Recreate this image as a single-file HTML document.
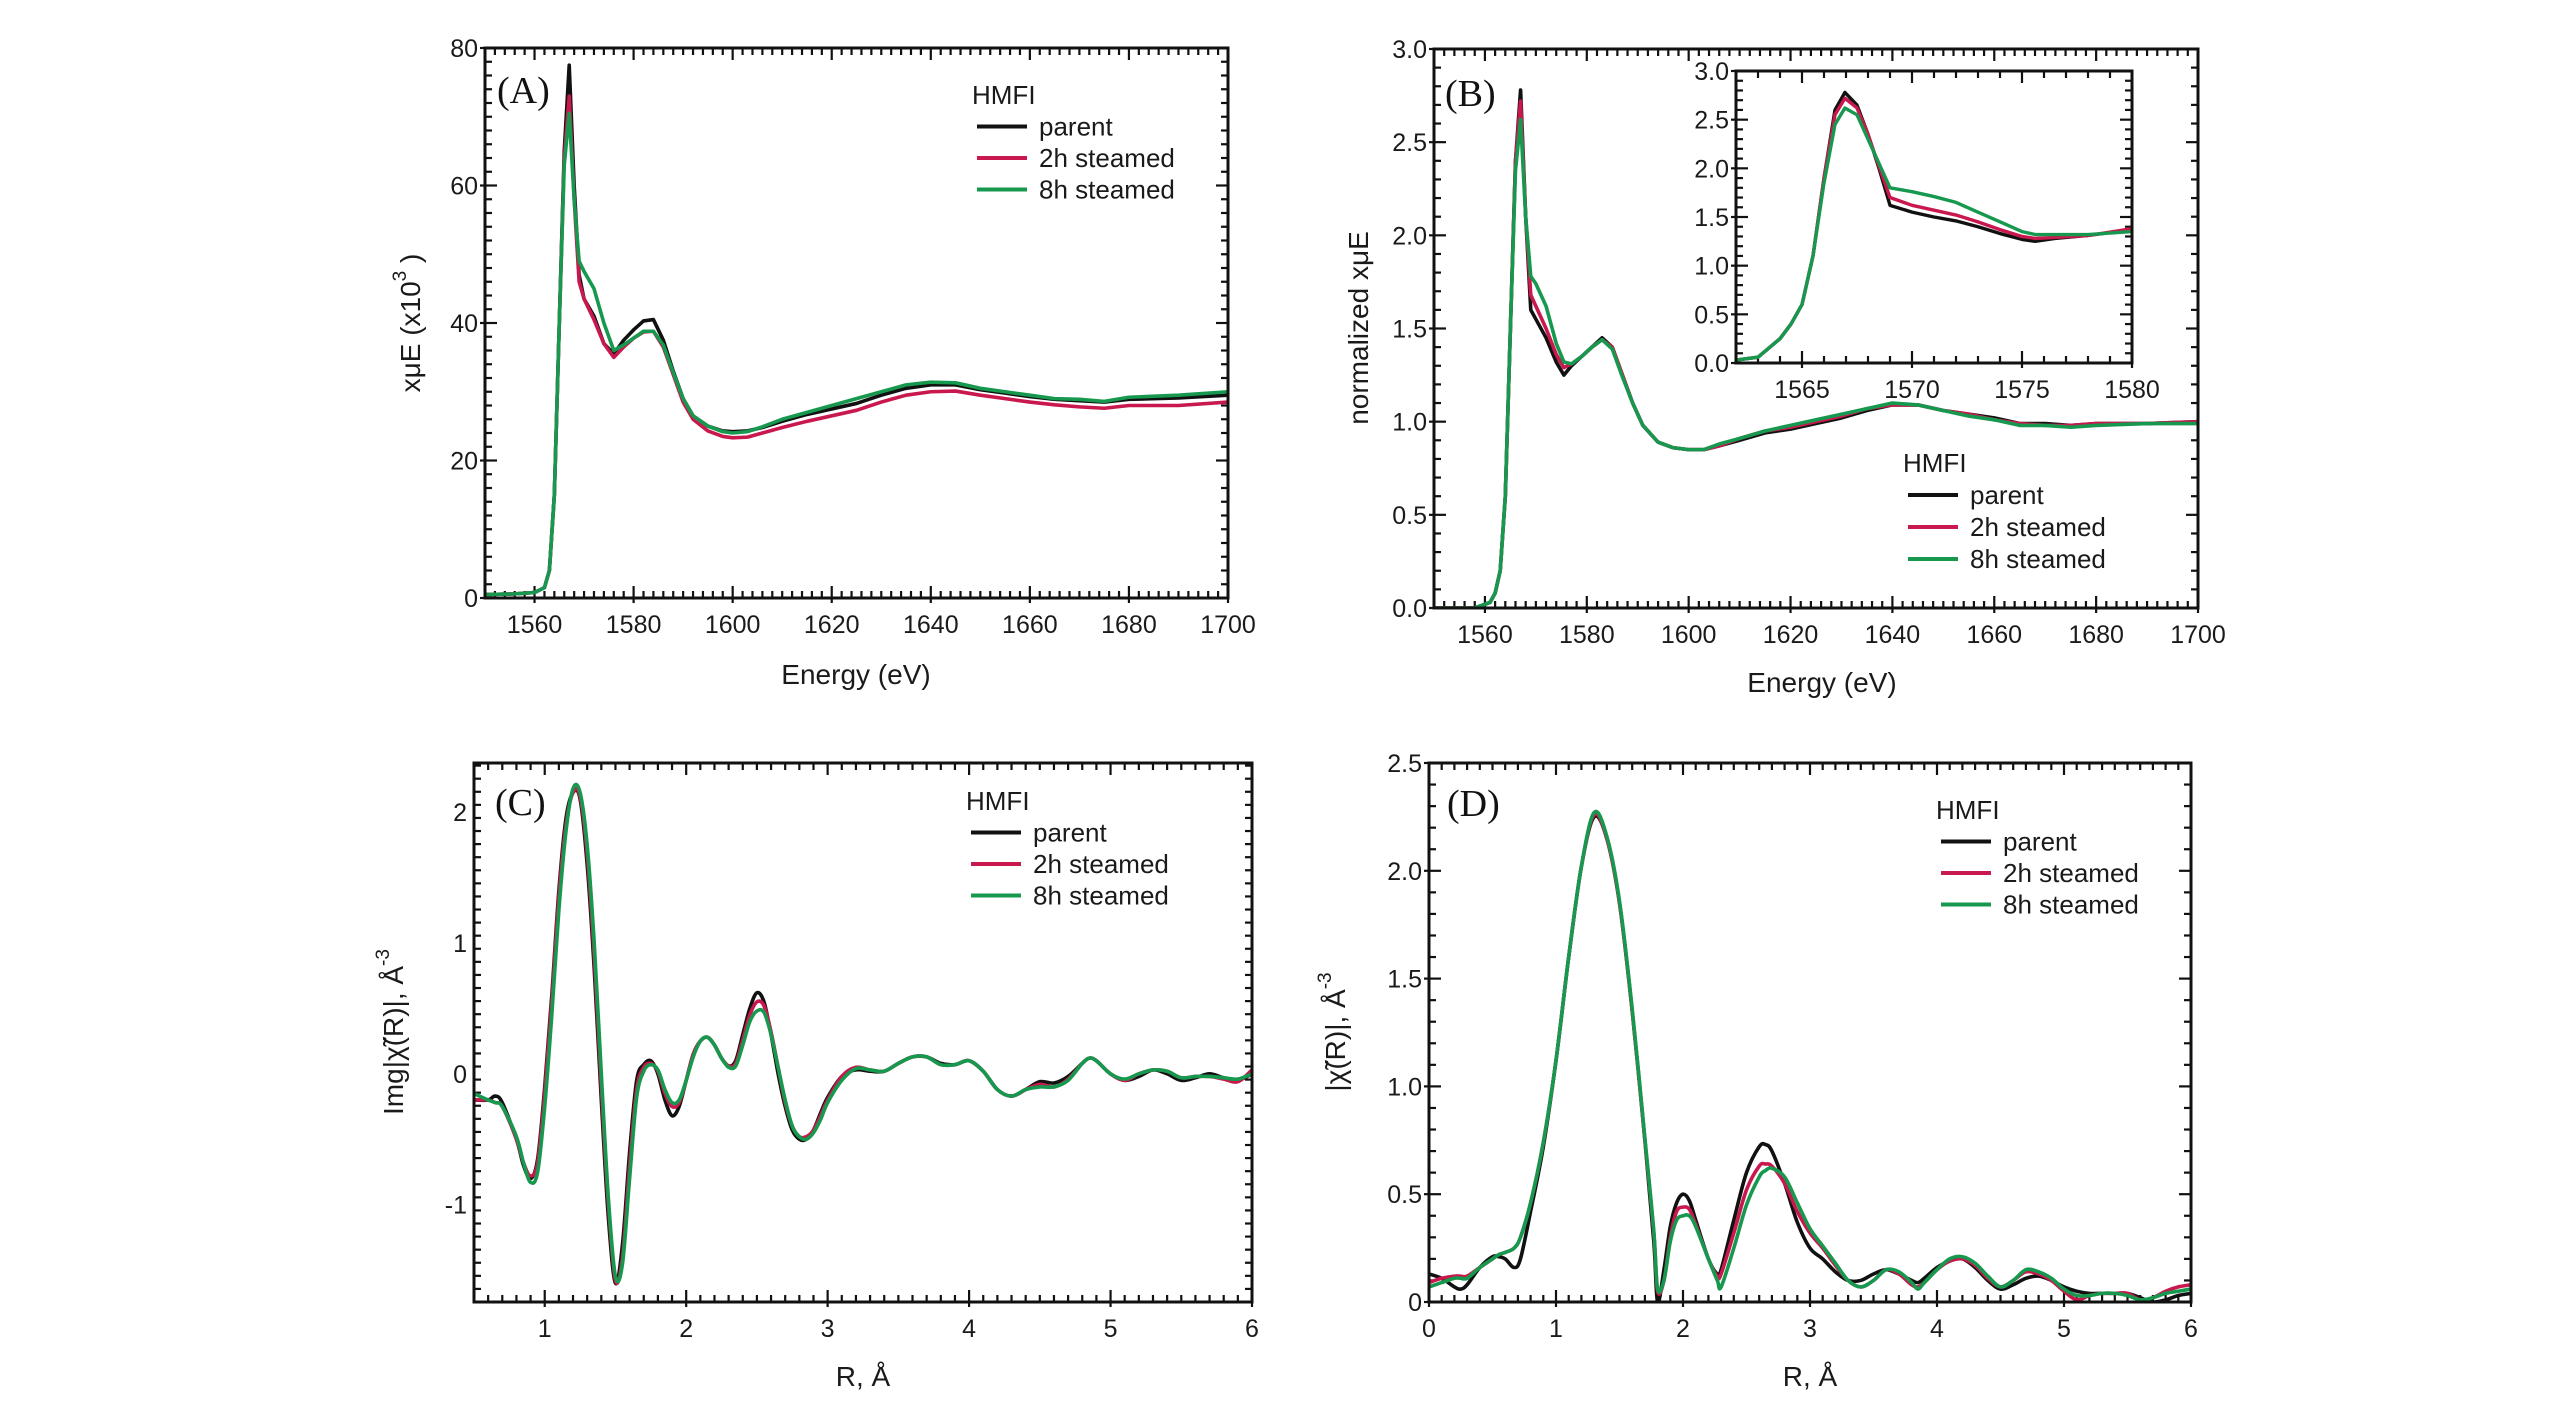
<!DOCTYPE html>
<html><head><meta charset="utf-8"><style>
html,body{margin:0;padding:0;background:#fff;}
svg{display:block;font-family:"Liberation Sans",Arial,sans-serif;}
</style></head><body>
<svg id="fig" width="2567" height="1417" viewBox="0 0 2567 1417" xmlns="http://www.w3.org/2000/svg"></svg>
<script>
// ---------- Panel A data ----------
const aEnergy = [1550,1556,1560,1562,1563,1564,1565,1566,1567,1568,1569,1570,1572,1574,1576,1578,1580,1582,1584,1586,1588,1590,1592,1595,1598,1600,1603,1606,1610,1615,1620,1625,1630,1635,1640,1645,1650,1655,1660,1665,1670,1675,1680,1690,1700];
const aParent = [0.5,0.6,0.8,1.5,4,15,40,65,77.5,60,47,43.5,41,37,35.5,37.5,39,40.3,40.5,37.5,33,29,26.5,25,24.3,24.2,24.3,24.8,25.7,26.7,27.5,28.3,29.5,30.5,31,31,30.3,29.8,29.3,28.9,28.7,28.5,28.9,29.1,29.5];
const aSteam2 = [0.5,0.6,0.8,1.5,4,15,40,64,73,58,46,43.5,40.5,37,35,36.5,37.8,38.7,38.8,36.5,32.5,28.5,26,24.3,23.5,23.3,23.4,24,24.8,25.7,26.5,27.3,28.5,29.5,30,30.1,29.5,29,28.5,28.1,27.8,27.6,28,28,28.5];
const aSteam8 = [0.5,0.6,0.8,1.5,4,15,40,63,70.5,58,49,47.5,45,40,36,36.8,37.8,38.8,38.8,36.8,32.8,29,26.5,25,24.2,24,24.2,24.9,26,27,28,29,30,31,31.4,31.3,30.5,30,29.5,29,28.9,28.6,29.2,29.5,30];
const aXTicks = [1560,1580,1600,1620,1640,1660,1680,1700];
const aYTicks = [0,20,40,60,80];
// ---------- Panel B data ----------
const bEnergy = [1550,1558,1561,1562,1563,1564,1565,1566,1567,1568,1569,1570,1572,1574,1575.5,1577,1579,1581,1583,1585,1587,1589,1591,1594,1597,1600,1603,1606,1610,1615,1620,1625,1630,1635,1640,1645,1650,1655,1660,1665,1670,1675,1680,1690,1700];
const bParent = [0,0,0.03,0.08,0.2,0.6,1.5,2.4,2.78,2.1,1.6,1.55,1.45,1.32,1.25,1.3,1.35,1.4,1.45,1.4,1.25,1.1,0.98,0.89,0.86,0.85,0.85,0.87,0.9,0.94,0.96,0.99,1.02,1.06,1.09,1.09,1.06,1.04,1.02,0.99,0.99,0.98,0.99,0.99,1.0];
const bSteam2 = [0,0,0.03,0.08,0.2,0.6,1.5,2.4,2.72,2.1,1.68,1.62,1.5,1.36,1.29,1.31,1.35,1.4,1.44,1.4,1.25,1.1,0.98,0.89,0.86,0.85,0.85,0.87,0.91,0.95,0.97,1.0,1.03,1.07,1.09,1.09,1.06,1.04,1.01,0.99,0.98,0.98,0.99,0.99,1.0];
const bSteam8 = [0,0,0.03,0.08,0.2,0.6,1.5,2.35,2.62,2.1,1.78,1.74,1.62,1.42,1.32,1.31,1.35,1.4,1.44,1.39,1.24,1.1,0.98,0.89,0.86,0.85,0.85,0.88,0.91,0.95,0.98,1.01,1.04,1.07,1.1,1.09,1.06,1.03,1.01,0.98,0.98,0.97,0.98,0.99,0.99];
const bXTicks = [1560,1580,1600,1620,1640,1660,1680,1700];
const bYTicks = ["0.0","0.5","1.0","1.5","2.0","2.5","3.0"];
// ---------- Inset data ----------
const iEnergy = [1562,1563,1564,1564.5,1565,1565.5,1566,1566.5,1566.95,1567.5,1568,1568.5,1569,1570,1571,1572,1573,1574,1575,1575.6,1576.5,1578,1580];
const iParent = [0.03,0.06,0.25,0.4,0.6,1.1,1.9,2.6,2.78,2.65,2.35,2.0,1.62,1.55,1.5,1.46,1.4,1.33,1.27,1.25,1.28,1.31,1.37];
const iSteam2 = [0.03,0.06,0.25,0.4,0.6,1.1,1.9,2.55,2.72,2.62,2.35,2.02,1.7,1.62,1.57,1.52,1.45,1.37,1.3,1.28,1.29,1.31,1.38];
const iSteam8 = [0.03,0.06,0.25,0.4,0.6,1.1,1.85,2.45,2.62,2.55,2.3,2.05,1.8,1.76,1.71,1.65,1.55,1.45,1.35,1.32,1.32,1.32,1.35];
const iXTicks = [1565,1570,1575,1580];
const iYTicks = ["0.0","0.5","1.0","1.5","2.0","2.5","3.0"];
// ---------- Panel C data ----------
const cR = [0.5,0.6,0.65,0.7,0.8,0.85,0.9,0.95,1.0,1.05,1.1,1.15,1.2,1.25,1.3,1.35,1.4,1.45,1.5,1.55,1.6,1.65,1.7,1.75,1.8,1.85,1.9,1.95,2.0,2.05,2.1,2.15,2.2,2.25,2.3,2.35,2.4,2.45,2.5,2.55,2.6,2.65,2.7,2.75,2.8,2.85,2.9,2.95,3.0,3.1,3.2,3.3,3.4,3.5,3.6,3.7,3.8,3.9,4.0,4.1,4.2,4.3,4.4,4.5,4.6,4.7,4.8,4.85,4.9,5.0,5.1,5.2,5.3,5.4,5.5,5.6,5.7,5.8,5.9,6.0];
const cParent = [-0.2,-0.2,-0.17,-0.22,-0.5,-0.7,-0.8,-0.65,-0.1,0.6,1.4,1.95,2.15,2.1,1.6,0.8,-0.2,-1.1,-1.6,-1.3,-0.6,-0.05,0.07,0.1,0.0,-0.2,-0.32,-0.25,-0.05,0.15,0.25,0.28,0.22,0.12,0.06,0.1,0.3,0.5,0.62,0.55,0.3,0.0,-0.25,-0.43,-0.5,-0.5,-0.43,-0.3,-0.18,-0.02,0.03,0.02,0.02,0.08,0.13,0.13,0.08,0.07,0.1,0.02,-0.12,-0.17,-0.12,-0.06,-0.07,-0.02,0.08,0.12,0.1,0.0,-0.05,-0.02,0.03,0.0,-0.05,-0.03,0.0,-0.03,-0.05,0.0];
const cSteam2 = [-0.2,-0.2,-0.22,-0.25,-0.5,-0.68,-0.78,-0.68,-0.15,0.55,1.35,1.9,2.15,2.12,1.68,0.9,-0.1,-1.0,-1.58,-1.4,-0.7,-0.12,0.05,0.08,0.02,-0.15,-0.25,-0.22,-0.05,0.15,0.25,0.28,0.22,0.12,0.06,0.08,0.26,0.45,0.55,0.52,0.32,0.05,-0.22,-0.4,-0.48,-0.48,-0.43,-0.32,-0.2,-0.02,0.05,0.03,0.02,0.08,0.13,0.13,0.07,0.07,0.1,0.02,-0.12,-0.17,-0.12,-0.08,-0.1,-0.04,0.08,0.12,0.1,0.0,-0.05,0.0,0.03,0.02,-0.03,-0.02,-0.02,-0.04,-0.06,0.03];
const cSteam8 = [-0.15,-0.2,-0.22,-0.25,-0.48,-0.68,-0.83,-0.75,-0.25,0.45,1.25,1.85,2.18,2.15,1.75,1.0,0.0,-0.95,-1.55,-1.45,-0.8,-0.18,0.02,0.07,0.03,-0.12,-0.22,-0.2,-0.05,0.13,0.25,0.28,0.22,0.12,0.05,0.06,0.22,0.4,0.48,0.47,0.3,0.05,-0.2,-0.4,-0.48,-0.5,-0.45,-0.35,-0.22,-0.05,0.04,0.03,0.02,0.08,0.13,0.13,0.07,0.07,0.1,0.02,-0.12,-0.17,-0.12,-0.1,-0.1,-0.05,0.08,0.12,0.1,0.0,-0.04,0.0,0.03,0.02,-0.03,-0.02,-0.02,-0.03,-0.04,0.0];
const cXTicks = [1,2,3,4,5,6];
const cYTicks = ["-1","0","1","2"];
// ---------- Panel D data ----------
const dR = [0,0.1,0.2,0.25,0.3,0.4,0.5,0.55,0.6,0.67,0.72,0.8,0.9,1.0,1.1,1.2,1.3,1.4,1.5,1.6,1.7,1.77,1.8,1.85,1.9,1.95,2.0,2.05,2.1,2.2,2.27,2.3,2.4,2.5,2.6,2.65,2.7,2.8,2.9,3.0,3.1,3.2,3.3,3.4,3.5,3.6,3.7,3.8,3.85,3.9,4.0,4.1,4.2,4.3,4.4,4.5,4.6,4.7,4.8,4.9,5.0,5.1,5.2,5.3,5.4,5.5,5.6,5.7,5.8,5.9,6.0];
const dParent = [0.13,0.11,0.07,0.06,0.08,0.16,0.21,0.21,0.2,0.16,0.2,0.42,0.72,1.12,1.6,2.02,2.25,2.15,1.85,1.35,0.75,0.28,0.0,0.15,0.35,0.46,0.5,0.47,0.38,0.2,0.13,0.15,0.38,0.6,0.72,0.73,0.7,0.55,0.37,0.25,0.2,0.14,0.1,0.1,0.13,0.15,0.13,0.1,0.09,0.11,0.16,0.19,0.2,0.16,0.1,0.06,0.08,0.11,0.12,0.1,0.07,0.05,0.04,0.04,0.04,0.04,0.02,0.0,0.01,0.03,0.04];
const dSteam2 = [0.09,0.11,0.12,0.12,0.12,0.16,0.2,0.22,0.23,0.25,0.3,0.46,0.74,1.12,1.6,2.02,2.26,2.15,1.85,1.35,0.75,0.32,0.05,0.1,0.3,0.42,0.44,0.43,0.36,0.2,0.12,0.13,0.32,0.52,0.63,0.64,0.63,0.55,0.42,0.32,0.25,0.17,0.1,0.07,0.1,0.15,0.13,0.08,0.07,0.09,0.15,0.19,0.2,0.17,0.11,0.07,0.1,0.14,0.13,0.1,0.05,0.01,0.03,0.04,0.04,0.04,0.01,0.02,0.05,0.07,0.08];
const dSteam8 = [0.07,0.09,0.11,0.11,0.11,0.16,0.2,0.22,0.23,0.25,0.3,0.46,0.74,1.12,1.6,2.02,2.27,2.16,1.86,1.36,0.76,0.33,0.06,0.1,0.28,0.38,0.4,0.4,0.35,0.2,0.1,0.07,0.25,0.45,0.58,0.61,0.62,0.58,0.46,0.34,0.26,0.18,0.1,0.07,0.1,0.15,0.14,0.09,0.06,0.09,0.15,0.2,0.21,0.18,0.12,0.07,0.1,0.15,0.14,0.11,0.06,0.03,0.03,0.04,0.04,0.03,0.01,0.02,0.04,0.05,0.06];
const dXTicks = [0,1,2,3,4,5,6];
const dYTicks = ["0","0.5","1.0","1.5","2.0","2.5"];

const seriesNames = ["parent","2h steamed","8h steamed"];
const seriesColors = ["#111111","#c8184e","#16994e"];

const NS = "http://www.w3.org/2000/svg";
const fig = document.getElementById("fig");
function mk(tag, attrs, parent){const e=document.createElementNS(NS,tag);for(const k in attrs)e.setAttribute(k,attrs[k]);(parent||fig).appendChild(e);return e;}
let clipId=0;

function panel(cfg){
  const g = mk("g",{});
  
  
  const L=cfg.box[0],R=cfg.box[1],T=cfg.box[2],B=cfg.box[3];
  const sx=v=>L+(v-cfg.xr[0])/(cfg.xr[1]-cfg.xr[0])*(R-L);
  const sy=v=>B-(v-cfg.yr[0])/(cfg.yr[1]-cfg.yr[0])*(B-T);
  const fs=cfg.fs||25;
  const tk = mk("g",{stroke:"#111","stroke-width":2.2},g);
  
  
  const eps=1e-6;
  for(let v=cfg.xr[0]; v<=cfg.xr[1]+eps; v+=cfg.xMinor){
    const isMaj=Math.abs(v/cfg.xMajor-Math.round(v/cfg.xMajor))<1e-4;
    const len=isMaj?12:7, x=sx(v);
    mk("line",{x1:x,y1:B,x2:x,y2:B-len},tk); mk("line",{x1:x,y1:T,x2:x,y2:T+len},tk);
    if(isMaj){mk("line",{x1:x,y1:B,x2:x,y2:B+5},tk);}
  }
  for(let v=cfg.yr[0]; v<=cfg.yr[1]+eps; v+=cfg.yMinor){
    const isMaj=Math.abs(v/cfg.yMajor-Math.round(v/cfg.yMajor))<1e-4;
    const len=isMaj?12:7, y=sy(v);
    mk("line",{x1:L,y1:y,x2:L+len,y2:y},tk); mk("line",{x1:R,y1:y,x2:R-len,y2:y},tk);
    if(isMaj){mk("line",{x1:L,y1:y,x2:L-5,y2:y},tk);}
  }
  cfg.xTicks.forEach(t=>{
    const e=mk("text",{x:sx(+t),y:B+fs+10,"text-anchor":"middle","font-size":fs,fill:"#1a1a1a"},g);
    e.textContent=t;
    
    
  });
  cfg.yTicks.forEach(t=>{
    const e=mk("text",{x:L-7,y:sy(+t)+fs*0.36,"text-anchor":"end","font-size":fs,fill:"#1a1a1a"},g);
    e.textContent=t;
    
    
  });
  const cid="clip"+(clipId++);
  const cp=mk("clipPath",{id:cid},g); mk("rect",{x:L,y:T,width:R-L,height:B-T},cp);
  const sg=mk("g",{"clip-path":"url(#"+cid+")"},g);
  cfg.ys.forEach((ys,si)=>{
    const pts=cfg.xs.map((x,i)=>[sx(x),sy(ys[i])]);
    let d="M"+pts[0][0]+","+pts[0][1];
    if(cfg.smooth){
      for(let i=0;i<pts.length-1;i++){
        const p0=pts[Math.max(0,i-1)],p1=pts[i],p2=pts[i+1],p3=pts[Math.min(pts.length-1,i+2)];
        const c1x=p1[0]+(p2[0]-p0[0])/6,c1y=p1[1]+(p2[1]-p0[1])/6;
        const c2x=p2[0]-(p3[0]-p1[0])/6,c2y=p2[1]-(p3[1]-p1[1])/6;
        d+=" C"+c1x+","+c1y+" "+c2x+","+c2y+" "+p2[0]+","+p2[1];
      }
    } else { for(let i=1;i<pts.length;i++) d+=" L"+pts[i][0]+","+pts[i][1]; }
    const p=mk("path",{d:d,fill:"none",stroke:seriesColors[si],"stroke-width":cfg.lw||3.6,"stroke-linejoin":"round","stroke-linecap":"round"},sg);
    
    
  });
  const fr=mk("rect",{x:L,y:T,width:R-L,height:B-T,fill:"none",stroke:"#111","stroke-width":3},g);
  
  
  if(cfg.legend){
    const [lx,ly,dy]=cfg.legend;
    const lg=mk("g",{},g);
    
    
    const h=mk("text",{x:lx,y:ly+9,"font-size":26,fill:"#1a1a1a"},lg); h.textContent="HMFI";
    
    
    seriesNames.forEach((n,i)=>{
      const yy=ly+dy*(i+1);
      mk("line",{x1:lx+5,y1:yy,x2:lx+55,y2:yy,stroke:seriesColors[i],"stroke-width":4},lg);
      const t=mk("text",{x:lx+67,y:yy+9,"font-size":26,fill:"#1a1a1a"},lg); t.textContent=n;
      
      
    });
  }
  if(cfg.label){
    const t=mk("text",{x:cfg.label[1],y:cfg.label[2],"font-size":38,"font-family":"Liberation Serif, serif",fill:"#111"},g);
    t.textContent=cfg.label[0];
    
    
  }
  return {sx,sy,g};
}

function yTitle(x,y,html,name){
  const t=mk("text",{x:x,y:y,"font-size":28,"text-anchor":"middle",fill:"#1a1a1a",transform:"rotate(-90 "+x+" "+y+")"});
  t.innerHTML=html;
  
  
}
function xTitle(x,y,txt,name){
  const t=mk("text",{x:x,y:y,"font-size":28,"text-anchor":"middle",fill:"#1a1a1a"});
  t.textContent=txt;
  
  
}

panel({name:"panel-a",box:[485,1228,48,598],xr:[1550,1700],yr:[0,80],xMajor:20,xMinor:2,yMajor:20,yMinor:2,
  xTicks:aXTicks,yTicks:aYTicks,xs:aEnergy,ys:[aParent,aSteam2,aSteam8],legend:[972,95,31.5],label:["(A)",497,103]});
xTitle(856,684,"Energy (eV)","x-axis-title-a");
yTitle(420,323,'xμE (x10<tspan dy="-14" font-size="19">3</tspan><tspan dy="14"> )</tspan>',"y-axis-title-a");

panel({name:"panel-b",box:[1434,2198,49,608],xr:[1550,1700],yr:[0,3],xMajor:20,xMinor:2,yMajor:0.5,yMinor:0.1,
  xTicks:bXTicks,yTicks:bYTicks,xs:bEnergy,ys:[bParent,bSteam2,bSteam8],legend:[1903,463,32],label:["(B)",1445,106]});
xTitle(1822,692,"Energy (eV)","x-axis-title-b");
yTitle(1368,328,"normalized xμE","y-axis-title-b");

mk("rect",{x:1736,y:71,width:396,height:292,fill:"#fff"});
panel({name:"inset-b",box:[1736,2132,71,363],xr:[1562,1580],yr:[0,3],xMajor:5,xMinor:1,yMajor:0.5,yMinor:0.1,
  xTicks:iXTicks,yTicks:iYTicks,xs:iEnergy,ys:[iParent,iSteam2,iSteam8],lw:3.4});

panel({name:"panel-c",box:[474,1252,763,1302],xr:[0.5,6],yr:[-1.744,2.376],xMajor:1,xMinor:0.1,yMajor:1,yMinor:0.1,
  xTicks:cXTicks,yTicks:cYTicks,xs:cR,ys:[cParent,cSteam2,cSteam8],smooth:true,legend:[966,801,31.5],label:["(C)",495,815]});
xTitle(863,1386,"R, Å","x-axis-title-c");
yTitle(403,1032,'Img|χ̃(R)|, Å<tspan dy="-14" font-size="19">-3</tspan>',"y-axis-title-c");

panel({name:"panel-d",box:[1429,2191,763,1302],xr:[0,6],yr:[0,2.5],xMajor:1,xMinor:0.1,yMajor:0.5,yMinor:0.1,
  xTicks:dXTicks,yTicks:dYTicks,xs:dR,ys:[dParent,dSteam2,dSteam8],smooth:true,legend:[1936,810,31.5],label:["(D)",1447,816]});
xTitle(1810,1386,"R, Å","x-axis-title-d");
yTitle(1345,1032,'|χ̃(R)|, Å<tspan dy="-14" font-size="19">-3</tspan>',"y-axis-title-d");
</script>
</body></html>
